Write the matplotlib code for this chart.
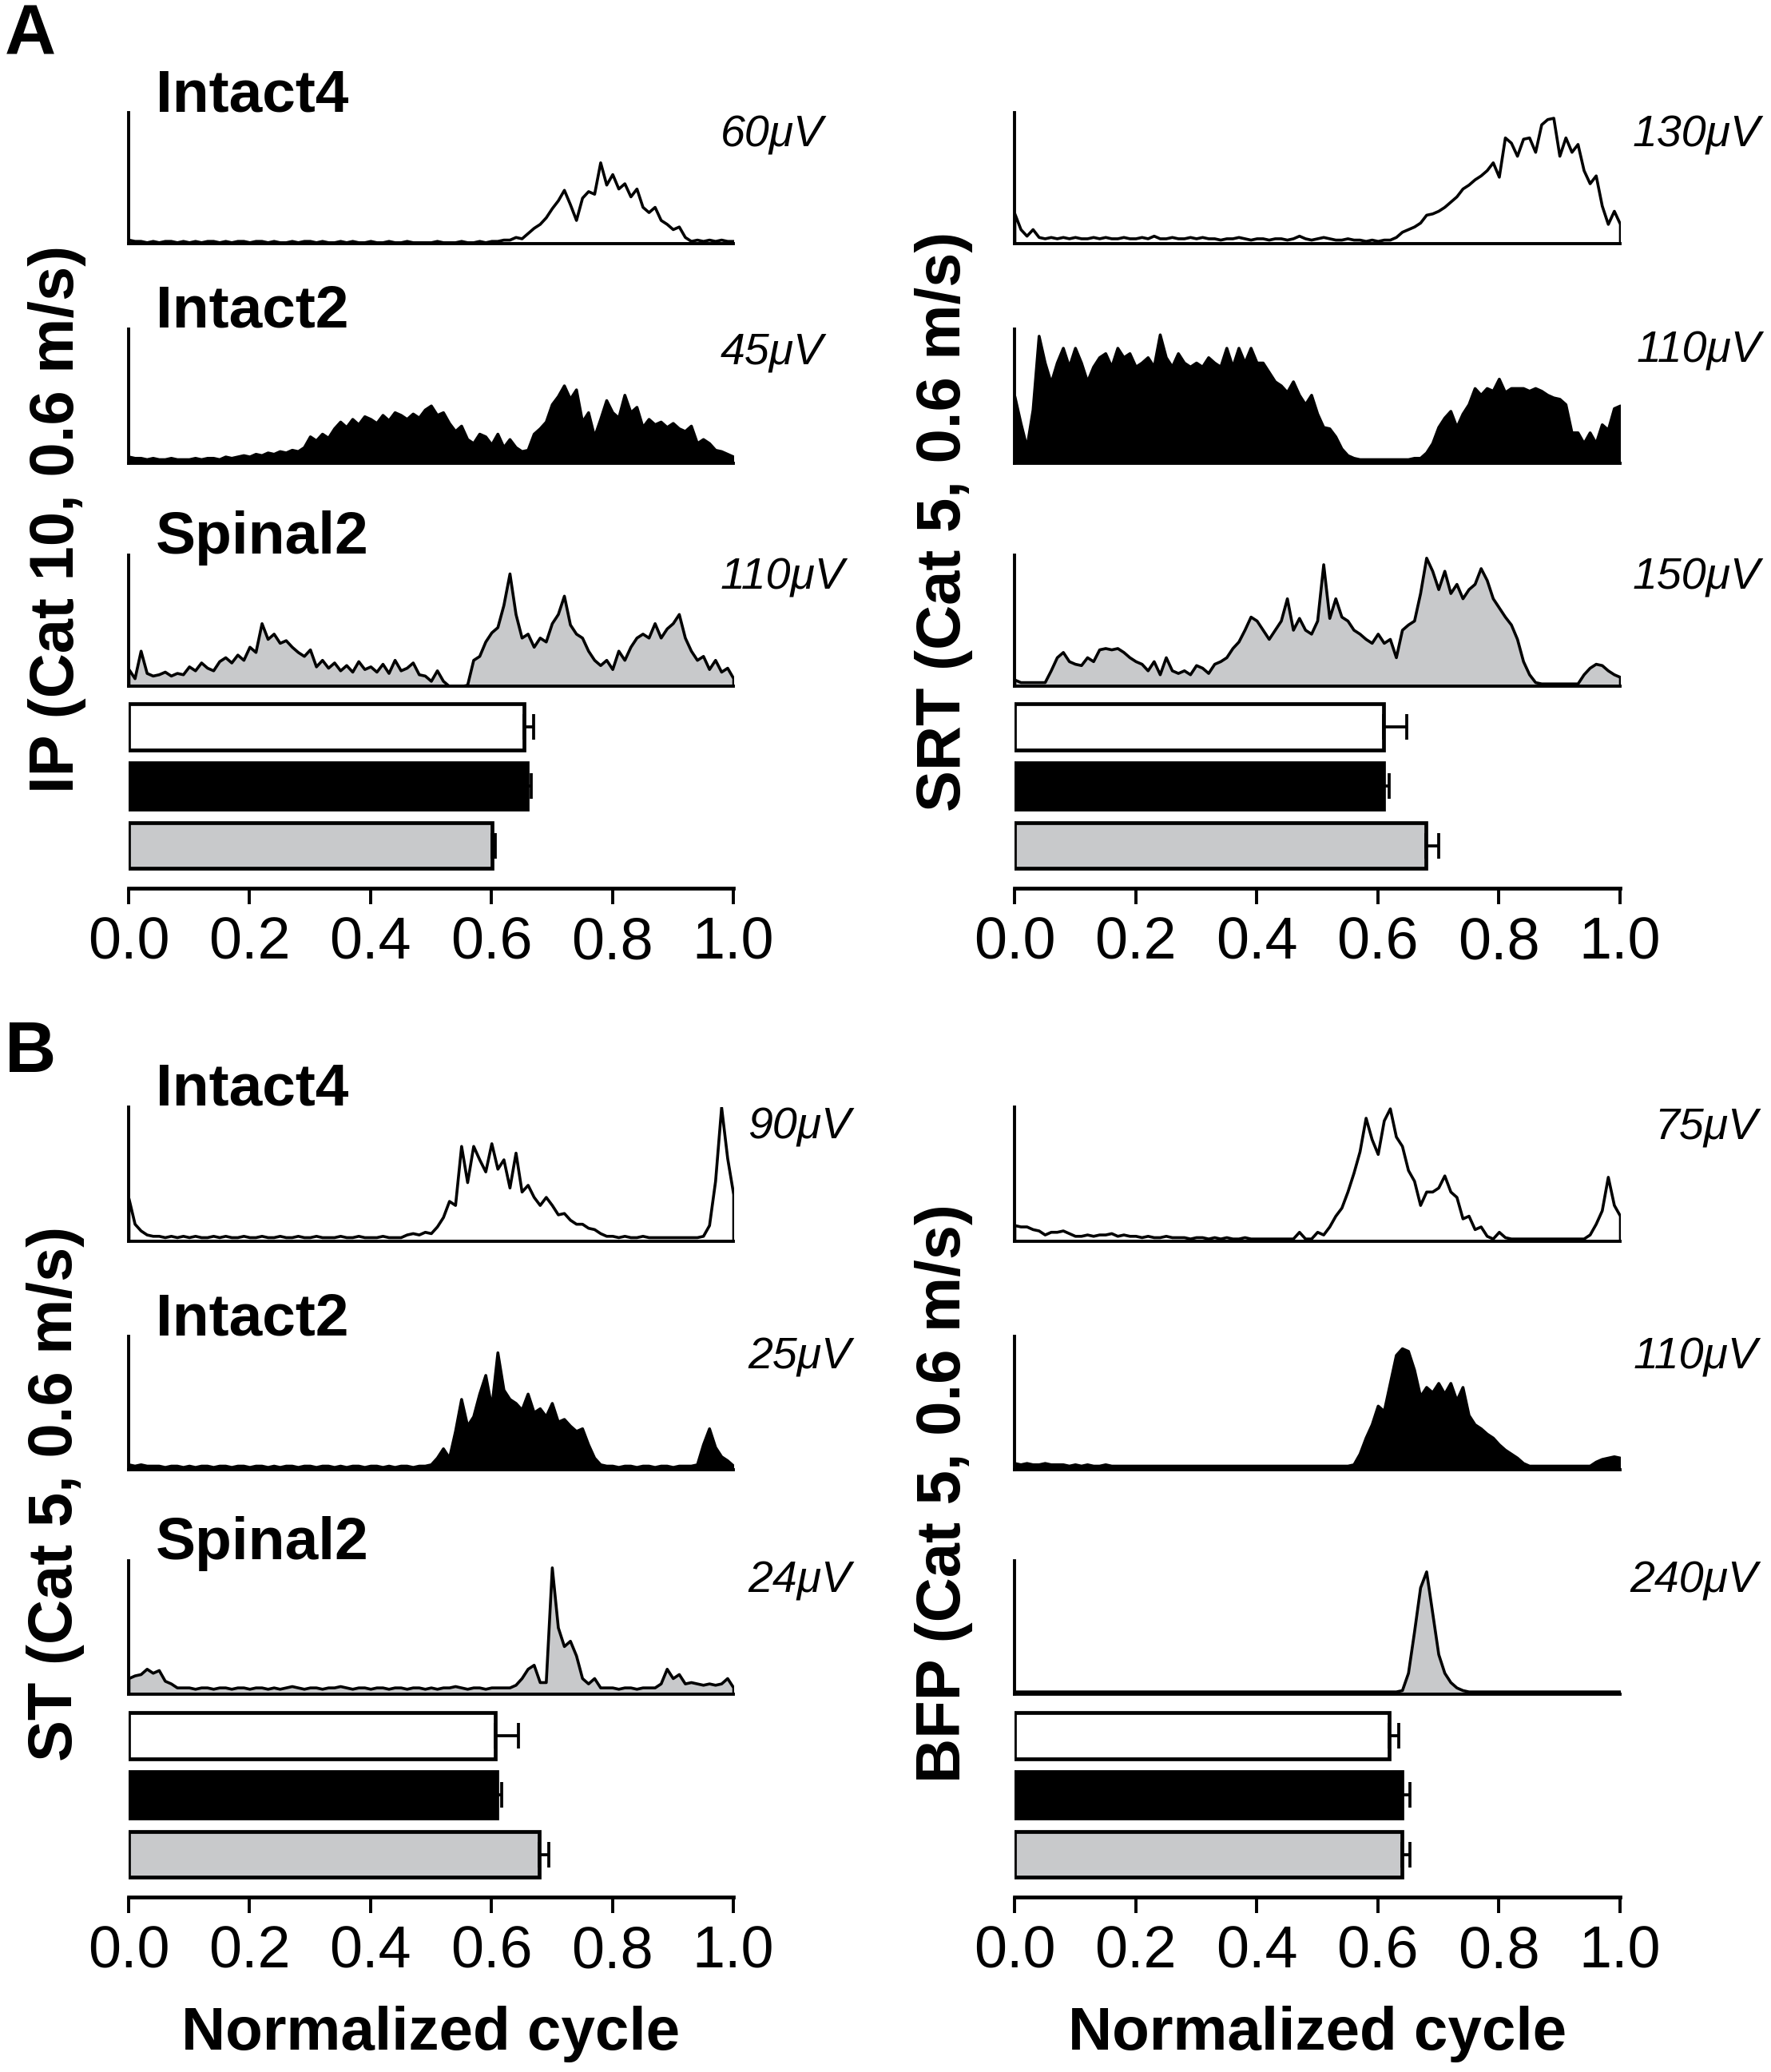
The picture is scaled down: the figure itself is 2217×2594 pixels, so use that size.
import numpy as np
import matplotlib
matplotlib.use("Agg")
import matplotlib.pyplot as plt

plt.rcParams['font.family'] = ['Liberation Sans', 'DejaVu Sans']

W, H = 2217, 2594

# ---- data (percent of trace height, 0.00 .. 1.00 of the cycle) ----
ip_intact4 = [3, 2, 2, 1, 2, 1, 2, 2, 1, 2,
              1, 2, 1, 2, 2, 1, 2, 1, 2, 2,
              1, 2, 2, 1, 2, 1, 1, 2, 1, 2,
              2, 1, 2, 1, 1, 2, 1, 2, 1, 1,
              2, 1, 1, 2, 1, 1, 2, 1, 1, 1,
              1, 2, 1, 1, 1, 2, 1, 1, 2, 1,
              2, 2, 3, 3, 5, 4, 8, 12, 15, 20,
              27, 33, 41, 30, 18, 35, 40, 38, 62, 45,
              53, 42, 46, 36, 42, 28, 24, 28, 18, 15,
              11, 13, 5, 2, 3, 2, 3, 2, 3, 2,
              2]
ip_intact2 = [5, 4, 4, 3, 4, 3, 3, 4, 3, 3,
              3, 4, 3, 4, 4, 3, 5, 4, 5, 6,
              5, 7, 6, 8, 7, 9, 8, 10, 9, 12,
              20, 17, 22, 19, 26, 31, 27, 33, 29, 35,
              33, 30, 36, 32, 38, 36, 33, 37, 34, 40,
              43, 36, 38, 30, 24, 28, 18, 15, 22, 20,
              14, 22, 12, 18, 12, 9, 10, 22, 26, 31,
              44, 50, 58, 48, 55, 31, 38, 20, 33, 47,
              38, 34, 51, 38, 42, 27, 33, 29, 31, 27,
              30, 26, 24, 28, 15, 18, 15, 10, 9, 7,
              5]
ip_spinal2 = [13, 6, 27, 10, 8, 9, 11, 8, 10, 9,
              15, 12, 18, 14, 12, 19, 22, 18, 24, 20,
              30, 26, 48, 36, 40, 33, 35, 30, 26, 23,
              28, 15, 20, 14, 18, 12, 16, 11, 19, 13,
              15, 11, 17, 10, 20, 12, 14, 18, 9, 8,
              4, 12, 4, 0, 0, 0, 1, 20, 23, 34,
              41, 45, 62, 86, 55, 37, 40, 30, 37, 34,
              48, 55, 69, 47, 40, 37, 27, 20, 16, 20,
              13, 27, 20, 30, 37, 40, 37, 48, 37, 44,
              48, 55, 37, 27, 20, 23, 13, 20, 11, 14,
              6]

srt_intact4 = [23, 11, 6, 11, 5, 4, 5, 4, 5, 4,
               5, 4, 4, 5, 4, 5, 4, 4, 5, 4,
               4, 5, 4, 6, 4, 4, 5, 4, 4, 5,
               4, 5, 4, 4, 3, 4, 4, 5, 4, 3,
               4, 4, 3, 4, 4, 3, 4, 6, 4, 3,
               4, 5, 4, 3, 3, 4, 3, 3, 2, 3,
               2, 3, 3, 5, 9, 11, 13, 16, 22, 23,
               25, 28, 32, 36, 42, 45, 49, 52, 56, 62,
               51, 81, 77, 67, 80, 81, 70, 91, 95, 96,
               67, 81, 70, 76, 56, 46, 52, 29, 15, 25,
               15]
srt_intact2 = [50, 30, 12, 40, 95, 75, 60, 75, 86, 72,
               86, 75, 61, 72, 79, 82, 72, 86, 79, 82,
               72, 75, 79, 72, 96, 79, 72, 82, 75, 72,
               75, 72, 79, 75, 72, 86, 72, 86, 75, 86,
               75, 75, 68, 61, 58, 53, 61, 51, 44, 51,
               37, 27, 26, 20, 11, 6, 4, 3, 3, 3,
               3, 3, 3, 3, 3, 3, 4, 4, 8, 15,
               27, 34, 39, 27, 37, 44, 56, 51, 56, 54,
               63, 53, 56, 56, 56, 54, 56, 54, 51, 49,
               48, 44, 23, 23, 15, 23, 15, 29, 25, 41,
               43]
srt_spinal2 = [5, 3, 3, 3, 3, 3, 12, 22, 26, 19,
               17, 16, 22, 19, 28, 29, 28, 29, 26, 22,
               19, 17, 12, 19, 9, 22, 12, 10, 12, 9,
               16, 14, 10, 17, 19, 22, 29, 34, 43, 53,
               50, 43, 36, 43, 50, 67, 43, 52, 43, 40,
               50, 93, 52, 67, 53, 50, 43, 40, 36, 33,
               40, 33, 36, 22, 43, 47, 50, 71, 98, 88,
               74, 88, 71, 78, 67, 74, 78, 90, 81, 67,
               60, 53, 47, 36, 19, 9, 3, 2, 2, 2,
               2, 2, 2, 2, 9, 14, 17, 16, 12, 9,
               7]

st_intact4 = [32, 13, 8, 5, 4, 4, 3, 4, 3, 4,
              3, 4, 3, 3, 4, 3, 4, 3, 3, 4,
              3, 3, 4, 3, 3, 4, 3, 3, 4, 3,
              3, 4, 3, 3, 3, 4, 3, 3, 4, 3,
              3, 3, 4, 3, 3, 3, 5, 6, 5, 7,
              6, 11, 18, 30, 27, 71, 44, 71, 61, 52,
              73, 54, 61, 40, 66, 37, 42, 33, 27, 33,
              27, 20, 21, 16, 13, 13, 10, 9, 6, 4,
              4, 3, 4, 3, 3, 4, 3, 3, 3, 3,
              3, 3, 3, 3, 3, 4, 12, 45, 100, 62,
              35]
st_intact2 = [4, 3, 4, 3, 3, 3, 2, 3, 3, 2,
              3, 2, 3, 3, 2, 3, 3, 2, 3, 3,
              2, 3, 3, 2, 3, 2, 3, 3, 2, 3,
              3, 2, 3, 3, 2, 3, 2, 3, 3, 2,
              3, 3, 2, 3, 2, 3, 3, 2, 3, 3,
              4, 9, 16, 9, 29, 53, 33, 40, 57, 71,
              47, 88, 60, 53, 50, 45, 57, 43, 46, 40,
              50, 36, 38, 33, 29, 31, 19, 9, 4, 3,
              3, 2, 3, 3, 2, 3, 3, 2, 3, 3,
              2, 3, 3, 3, 4, 19, 31, 17, 10, 7,
              3]
st_spinal2 = [12, 14, 15, 19, 16, 18, 10, 8, 5, 5,
              5, 4, 5, 5, 4, 5, 5, 4, 5, 5,
              4, 5, 5, 4, 5, 4, 5, 6, 5, 4,
              5, 5, 4, 5, 5, 6, 5, 4, 5, 5,
              4, 5, 5, 4, 5, 5, 4, 5, 5, 4,
              5, 4, 5, 5, 6, 5, 4, 5, 5, 4,
              5, 5, 5, 5, 7, 12, 19, 22, 9, 9,
              95, 50, 36, 40, 29, 12, 8, 12, 5, 5,
              5, 4, 5, 5, 4, 5, 5, 5, 8, 19,
              12, 15, 8, 9, 8, 7, 8, 7, 8, 12,
              5]

bfp_intact4 = [12, 11, 11, 9, 8, 5, 7, 7, 8, 6,
               4, 4, 5, 4, 5, 5, 6, 4, 5, 4,
               4, 3, 4, 3, 3, 4, 3, 3, 3, 2,
               3, 3, 2, 3, 2, 3, 2, 2, 3, 2,
               2, 2, 2, 2, 2, 2, 2, 7, 2, 2,
               7, 5, 11, 19, 25, 37, 51, 67, 92, 76,
               65, 90, 99, 78, 71, 53, 45, 27, 37, 37,
               40, 49, 37, 33, 17, 19, 9, 11, 4, 2,
               7, 3, 2, 2, 2, 2, 2, 2, 2, 2,
               2, 2, 2, 2, 2, 5, 13, 23, 48, 27,
               19]
bfp_intact2 = [5, 4, 5, 4, 4, 5, 4, 4, 4, 3,
               4, 3, 4, 3, 3, 4, 3, 3, 3, 3,
               3, 3, 3, 3, 3, 3, 3, 3, 3, 3,
               3, 3, 3, 3, 3, 3, 3, 3, 3, 3,
               3, 3, 3, 3, 3, 3, 3, 3, 3, 3,
               3, 3, 3, 3, 3, 3, 4, 12, 24, 34,
               48, 44, 65, 86, 91, 89, 75, 55, 62, 58,
               65, 57, 65, 52, 62, 41, 34, 31, 27, 24,
               19, 15, 12, 9, 5, 3, 3, 3, 3, 3,
               3, 3, 3, 3, 3, 3, 6, 8, 9, 10,
               9]
bfp_spinal2 = [2, 2, 2, 2, 2, 2, 2, 2, 2, 2,
               2, 2, 2, 2, 2, 2, 2, 2, 2, 2,
               2, 2, 2, 2, 2, 2, 2, 2, 2, 2,
               2, 2, 2, 2, 2, 2, 2, 2, 2, 2,
               2, 2, 2, 2, 2, 2, 2, 2, 2, 2,
               2, 2, 2, 2, 2, 2, 2, 2, 2, 2,
               2, 2, 2, 2, 3, 16, 47, 80, 92, 61,
               30, 16, 9, 5, 3, 2, 2, 2, 2, 2,
               2, 2, 2, 2, 2, 2, 2, 2, 2, 2,
               2, 2, 2, 2, 2, 2, 2, 2, 2, 2,
               2]

# burst offsets (mean, sem) for Intact4 / Intact2 / Spinal2
ip_offset = [0.654, 0.659, 0.601]
ip_sem = [0.016, 0.007, 0.006]
srt_offset = [0.609, 0.610, 0.679]
srt_sem = [0.039, 0.009, 0.022]
st_offset = [0.607, 0.609, 0.679]
st_sem = [0.038, 0.008, 0.016]
bfp_offset = [0.619, 0.640, 0.640]
bfp_sem = [0.015, 0.013, 0.013]

conditions = ["Intact4", "Intact2", "Spinal2"]
xticks = [0.0, 0.2, 0.4, 0.6, 0.8, 1.0]

GREY = "#c8c9cb"
fills = ["white", "black", GREY]


def box(left, top, right, bottom):
    return [left / W, 1 - bottom / H, (right - left) / W, (bottom - top) / H]


def ftext(x, y, s, **kw):
    fig.text(x / W, 1 - y / H, s, **kw)


def draw_trace(ax, y, face):
    y = np.array(y, dtype=float)
    x = np.linspace(0, 1, len(y))
    ax.fill_between(x, y, 0, facecolor=face, edgecolor="black",
                    linewidth=2.6, joinstyle="round")
    ax.set_xlim(0, 1)
    ax.set_ylim(0, 100)
    ax.spines[["top", "right"]].set_visible(False)
    for s in ["left", "bottom"]:
        ax.spines[s].set_linewidth(2.8)
    ax.set_xticks([])
    ax.set_yticks([])


def draw_bars(ax, vals, errs):
    pos = [2, 1, 0]
    ax.barh(pos, vals, height=0.78, color=fills, edgecolor="black",
            linewidth=3.4)
    ax.errorbar(vals, pos, xerr=[np.zeros(3), errs], fmt="none",
                ecolor="black", elinewidth=2.7, capsize=11.5, capthick=2.7,
                clip_on=False)
    ax.set_xlim(0, 1)
    ax.set_ylim(-0.72, 2.47)
    ax.spines[["top", "right", "left"]].set_visible(False)
    ax.spines["bottom"].set_linewidth(3.4)
    ax.set_yticks([])
    ax.set_xticks(xticks)
    ax.set_xticklabels(["%.1f" % t for t in xticks])
    ax.tick_params(axis="x", direction="out", length=14.5, width=2.8,
                   pad=10, labelsize=53)


fig = plt.figure(figsize=(W / 100, H / 100), dpi=100)

cols = [(161, 918), (1270, 2028)]
rows_A = [(141, 305), (412, 580), (695, 859)]
rows_B = [(1386, 1554), (1673, 1840), (1954, 2121)]

panels = [
    (cols[0], rows_A, (875, 1112), [ip_intact4, ip_intact2, ip_spinal2],
     ip_offset, ip_sem),
    (cols[1], rows_A, (875, 1112), [srt_intact4, srt_intact2, srt_spinal2],
     srt_offset, srt_sem),
    (cols[0], rows_B, (2138, 2375), [st_intact4, st_intact2, st_spinal2],
     st_offset, st_sem),
    (cols[1], rows_B, (2138, 2375), [bfp_intact4, bfp_intact2, bfp_spinal2],
     bfp_offset, bfp_sem),
]

for (l, r), rows, (bt, bb), traces, offs, sems in panels:
    for (t, b), tr, face in zip(rows, traces, fills):
        ax = fig.add_axes(box(l, t, r, b))
        draw_trace(ax, tr, face)
    axb = fig.add_axes(box(l, bt, r, bb))
    draw_bars(axb, offs, sems)

# condition titles (left column only)
for rows in (rows_A, rows_B):
    for (t, b), name in zip(rows, conditions):
        ftext(195, t - 2, name, fontsize=54, fontweight="bold",
              ha="left", va="baseline")

# amplitude scale labels
scales = [
    (902, "left", rows_A, ["60μV", "45μV", "110μV"], 43),
    (2204, "right", rows_A, ["130μV", "110μV", "150μV"], 42),
    (1065, "right", rows_B, ["90μV", "25μV", "24μV"], 40),
    (2200, "right", rows_B, ["75μV", "110μV", "240μV"], 40),
]
for x, ha, rows, labels, dy in scales:
    for (t, b), s in zip(rows, labels):
        ftext(x, t + dy, s, fontsize=40, fontstyle="italic", ha=ha,
              va="baseline")

# muscle labels
ylabels = [(72, 650, "IP (Cat 10, 0.6 m/s)"),
           (1181, 653, "SRT (Cat 5, 0.6 m/s)"),
           (70, 1870, "ST (Cat 5, 0.6 m/s)"),
           (1181, 1870, "BFP (Cat 5, 0.6 m/s)")]
for x, y, s in ylabels:
    ftext(x, y, s, fontsize=56, fontweight="bold", rotation=90,
          ha="center", va="center")

# x labels
for (l, r) in cols:
    ftext((l + r) / 2, 2566, "Normalized cycle", fontsize=55,
          fontweight="bold", ha="center", va="baseline")

# panel letters
ftext(6, 68, "A", fontsize=64, fontweight="bold", ha="left", va="baseline")
ftext(6, 1342, "B", fontsize=64, fontweight="bold", ha="left", va="baseline")

fig.savefig("out.png", dpi=100)
